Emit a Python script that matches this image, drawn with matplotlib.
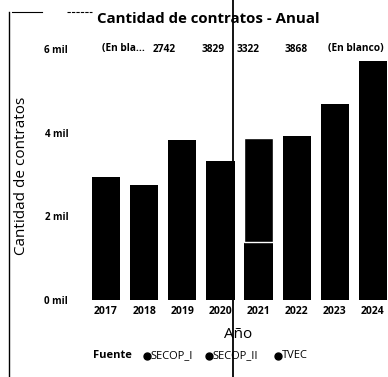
import numpy as np
import matplotlib
matplotlib.use("Agg")
import matplotlib.pyplot as plt
from matplotlib.lines import Line2D

plt.rcParams['font.family'] = ['Open Sans', 'DejaVu Sans']

years = ['2017', '2018', '2019', '2020', '2021', '2022', '2023', '2024']
secop_i = [2930, 2742, 3829, 3322, 1390, 0, 0, 0]
secop_ii = [0, 0, 0, 0, 2478, 3930, 4690, 5720]
sources = ['SECOP_I', 'SECOP_II', 'TVEC']
top_labels = ['(En bla...', '2742', '3829', '3322', '3868', '(En blanco)']
yticks = [0, 2000, 4000, 6000]
ytick_labels = ['0 mil', '2 mil', '4 mil', '6 mil']

W, H = 388, 377
fig = plt.figure(figsize=(W / 100, H / 100), dpi=100)
# axes box in pixels: x 87..392, y 0 at 300, 6000 at 49
ax = fig.add_axes([87 / W, 1 - 300 / H, 305 / W, 251 / H])

x = np.arange(len(years))
ax.bar(x, secop_i, width=0.74, color='black', linewidth=0)
# white edge only where a segment sits on top of another
edge_w = [1.0 if (v > 0 and b > 0) else 0 for v, b in zip(secop_ii, secop_i)]
ax.bar(x, secop_ii, width=0.74, bottom=secop_i, color='black',
       edgecolor='white', linewidth=edge_w)

ax.set_xlim(-0.5, len(years) - 0.5)
ax.set_ylim(0, 6000)
ax.set_xticks(x)
ax.set_xticklabels(years, fontsize=7.5, fontweight='bold')
ax.set_yticks(yticks)
ax.set_yticklabels(ytick_labels, fontsize=7, fontweight='bold')
ax.tick_params(length=0, pad=4)
ax.tick_params(axis='y', pad=13.5)
for s in ax.spines.values():
    s.set_visible(False)

# label row along the top of the plot
offsets = [0.45, 0.52, 0.82, 0.73, 0.98]
for i, lab in enumerate(top_labels):
    if i < len(offsets):
        ax.text(i + offsets[i], 6000, lab, ha='center', va='center',
                fontsize=7.3, fontweight='bold', clip_on=False)
    else:
        ax.text(i + 0.82, 6000, lab, ha='left', va='center',
                fontsize=7.3, fontweight='bold', clip_on=False)

fig.text(208 / W, 1 - 19 / H, 'Cantidad de contratos - Anual', ha='center',
         va='center', fontsize=10.8, fontweight='bold')
fig.text(22 / W, 1 - 176 / H, 'Cantidad de contratos', rotation=90,
         ha='center', va='center', fontsize=11)
fig.text(238 / W, 1 - 335 / H, 'Año', ha='center', va='center', fontsize=11)

# legend row
ly = 1 - 356 / H
fig.text(93 / W, ly, 'Fuente', ha='left', va='center',
         fontsize=8, fontweight='bold')
leg_x = [147, 209, 278]
for px, name in zip(leg_x, sources):
    fig.add_artist(Line2D([px / W], [ly], marker='o', color='black',
                          markersize=5, linestyle='none'))
    fig.text((px + 3.5) / W, ly, name, ha='left', va='center',
             fontsize=8)

# page marks
fig.add_artist(Line2D([233 / W, 233 / W], [0, 1], color='black', lw=1.3))
fig.add_artist(Line2D([9 / W, 9 / W], [0, 1 - 12 / H], color='black', lw=1.0))
fig.add_artist(Line2D([12 / W, 42 / W], [1 - 12 / H, 1 - 12 / H],
                      color='black', lw=0.8))
fig.add_artist(Line2D([67 / W, 92 / W], [1 - 12 / H, 1 - 12 / H],
                      color='black', lw=0.8, ls=(0, (3, 1))))

fig.savefig('out.png', dpi=100)
